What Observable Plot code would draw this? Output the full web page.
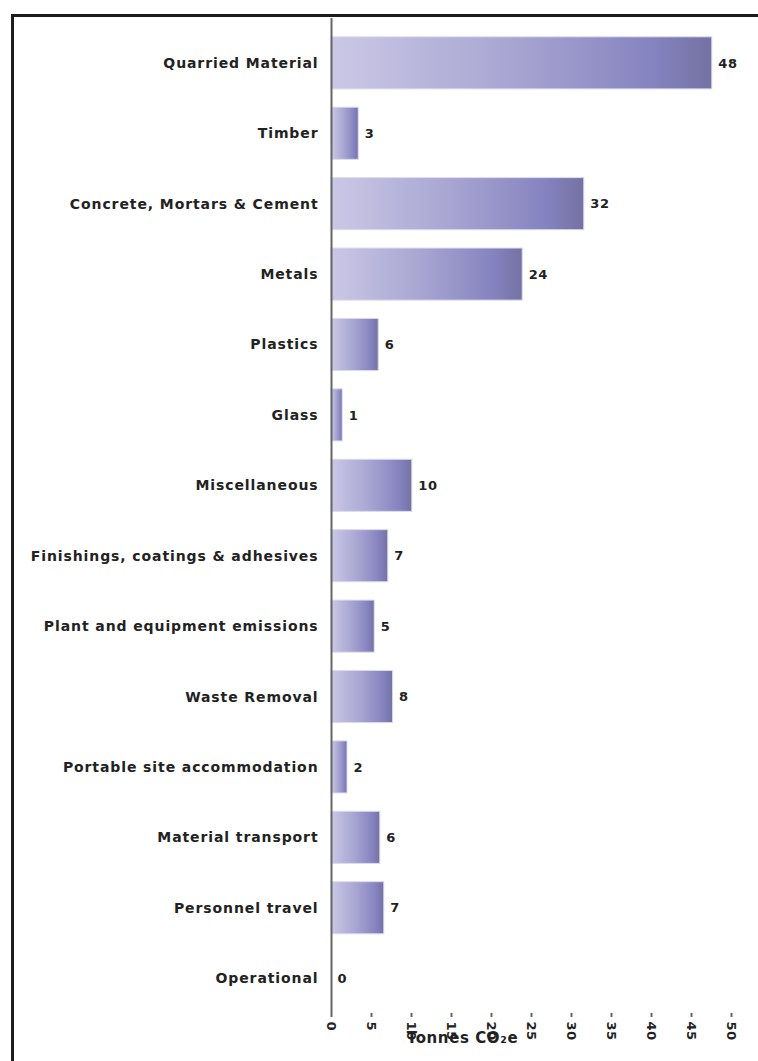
<!DOCTYPE html>
<html>
<head>
<meta charset="utf-8">
<script src="https://cdn.jsdelivr.net/npm/d3@7"></script>
<script src="https://cdn.jsdelivr.net/npm/@observablehq/plot@0.6"></script>
<style>
  html, body { margin: 0; padding: 0; background: #fff; }
  #wrap { position: relative; width: 758px; height: 1061px; overflow: hidden; }
  #frame { position: absolute; left: 11px; top: 14px; width: 900px; height: 1200px;
           border-left: 3px solid #1c1c1c; border-top: 3px solid #1c1c1c; }
  #chart { position: absolute; left: 0; top: 0; }
  .co2chart g[aria-label="y-axis tick label"] text { letter-spacing: 0.9px; font-size: 14px; }
  .co2chart g[aria-label="text"] text { letter-spacing: 0.6px; }
  .co2chart g[aria-label="x-axis tick label"] text { letter-spacing: 0.4px; }
</style>
</head>
<body>
<div id="wrap"><div id="frame"></div><div id="chart"></div></div>
<script>
const categories = [
  "Quarried Material", "Timber", "Concrete, Mortars & Cement", "Metals", "Plastics",
  "Glass", "Miscellaneous", "Finishings, coatings & adhesives", "Plant and equipment emissions",
  "Waste Removal", "Portable site accommodation", "Material transport", "Personnel travel", "Operational"
];
const values = [47.6, 3.4, 31.6, 23.9, 5.9, 1.4, 10.1, 7.1, 5.4, 7.7, 2.0, 6.1, 6.6, 0];
const valueLabels = ["48", "3", "32", "24", "6", "1", "10", "7", "5", "8", "2", "6", "7", "0"];
const xTicks = [0, 5, 10, 15, 20, 25, 30, 35, 40, 45, 50];
const axisTitle = "Tonnes CO\u2082e";

const data = categories.map((c, i) => ({category: c, value: values[i], label: valueLabels[i]}));

const font = "'DejaVu Sans', Verdana, sans-serif";

const gradientDefs = () => {
  const ns = "http://www.w3.org/2000/svg";
  const defs = document.createElementNS(ns, "defs");
  const g = document.createElementNS(ns, "linearGradient");
  g.setAttribute("id", "barGrad");
  g.setAttribute("x1", "0"); g.setAttribute("x2", "1");
  g.setAttribute("y1", "0"); g.setAttribute("y2", "0");
  [["0%", "#cbc8e6"], ["50%", "#a6a3d1"], ["85%", "#8583bf"], ["100%", "#7471a3"]].forEach(([o, c]) => {
    const s = document.createElementNS(ns, "stop");
    s.setAttribute("offset", o); s.setAttribute("stop-color", c);
    g.appendChild(s);
  });
  defs.appendChild(g);
  return defs;
};

const chart = Plot.plot({
  className: "co2chart",
  width: 758,
  height: 1061,
  marginLeft: 331,
  marginRight: 27,
  marginTop: 28,
  marginBottom: 48,
  style: {fontFamily: font, fontWeight: "bold", fontSize: "13px", color: "#222", background: "transparent"},
  x: {domain: [0, 50], ticks: xTicks, tickRotate: 90, tickSize: 4, tickPadding: 4, label: null},
  y: {domain: categories, paddingInner: 0.26, paddingOuter: 0.125, round: false, label: null, tickSize: 0, tickPadding: 13},
  marks: [
    gradientDefs,
    Plot.barX(data, {x: "value", y: "category", fill: "url(#barGrad)", stroke: "#dcdaf0", strokeWidth: 1}),
    Plot.text(data, {x: "value", y: "category", text: "label", textAnchor: "start", dx: 6, fill: "#222"}),
    Plot.ruleX([0], {stroke: "#666", strokeWidth: 2, insetTop: -10}),
    Plot.ruleY([0], {stroke: "#666", strokeWidth: 2}),
    Plot.axisX({ticks: xTicks, tickRotate: 90, tickSize: 4, tickPadding: 4, stroke: "#666", strokeWidth: 2, label: null}),
    Plot.axisY({tickSize: 0, tickPadding: 13, label: null}),
    Plot.text([axisTitle], {frameAnchor: "bottom", dx: -69, dy: 29, fontSize: 15, fill: "#222"})
  ]
});
document.getElementById("chart").appendChild(chart);
</script>
</body>
</html>
